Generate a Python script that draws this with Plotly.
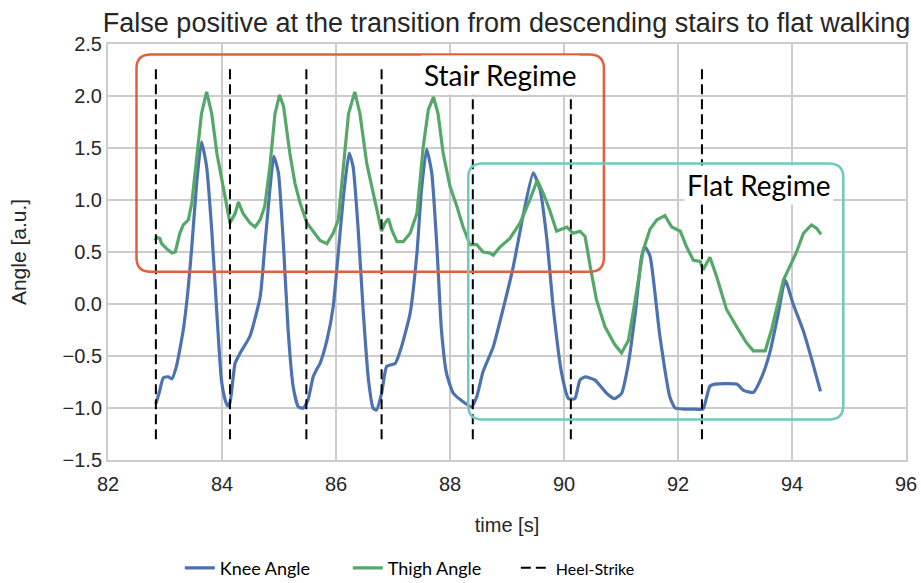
import plotly.graph_objects as go

# ---------------- data ----------------
knee_t = [82.84, 82.90, 82.97, 83.06, 83.12, 83.20, 83.32, 83.41, 83.47, 83.56, 83.64, 83.73, 83.82, 83.91,
          83.99, 84.06, 84.10, 84.14, 84.23, 84.32, 84.49, 84.67, 84.75, 84.84, 84.91, 84.99, 85.08, 85.16,
          85.25, 85.34, 85.43, 85.51, 85.60, 85.66, 85.72, 85.84, 85.95, 86.04, 86.13, 86.23, 86.30, 86.39,
          86.48, 86.57, 86.65, 86.71, 86.80, 86.89, 87.04, 87.15, 87.30, 87.42, 87.50, 87.59, 87.68, 87.77,
          87.85, 87.94, 88.06, 88.23, 88.38, 88.47, 88.58, 88.76, 88.94, 89.11, 89.29, 89.46, 89.58, 89.70,
          89.81, 89.96, 90.08, 90.19, 90.28, 90.37, 90.54, 90.75, 90.89, 91.01, 91.13, 91.25, 91.36, 91.42,
          91.51, 91.68, 91.86, 91.95, 92.10, 92.27, 92.44, 92.50, 92.56, 92.65, 93.03, 93.15, 93.32, 93.47,
          93.61, 93.76, 93.88, 94.02, 94.20, 94.37, 94.50]
knee = [-0.96, -0.85, -0.71, -0.70, -0.72, -0.60, -0.25, 0.17, 0.55, 1.19, 1.56, 1.32, 0.71, -0.09,
        -0.73, -0.93, -0.98, -0.95, -0.57, -0.47, -0.31, 0.07, 0.55, 1.10, 1.42, 1.26, 0.55, -0.25,
        -0.80, -0.99, -1.00, -0.92, -0.70, -0.63, -0.57, -0.35, -0.03, 0.49, 1.03, 1.45, 1.32, 0.71,
        -0.09, -0.73, -1.00, -1.02, -0.86, -0.60, -0.57, -0.41, -0.09, 0.49, 1.10, 1.49, 1.26, 0.55,
        -0.25, -0.67, -0.86, -0.94, -0.99, -0.89, -0.65, -0.41, -0.03, 0.36, 0.87, 1.26, 1.10, 0.62,
        -0.03, -0.67, -0.91, -0.91, -0.73, -0.70, -0.73, -0.86, -0.91, -0.86, -0.57, -0.09, 0.45, 0.55,
        0.46, -0.30, -0.90, -1.00, -1.01, -1.01, -1.01, -0.90, -0.79, -0.77, -0.77, -0.83, -0.85, -0.70,
        -0.47, -0.09, 0.23, 0.00, -0.26, -0.58, -0.84]

thigh_t = [82.82, 82.86, 82.91, 82.94, 83.03, 83.12, 83.18, 83.26, 83.32, 83.41, 83.47, 83.56, 83.64, 83.73,
           83.82, 83.91, 84.02, 84.14, 84.23, 84.29, 84.37, 84.49, 84.58, 84.67, 84.75, 84.84, 84.93, 85.01,
           85.08, 85.19, 85.28, 85.37, 85.49, 85.57, 85.66, 85.72, 85.84, 85.95, 86.04, 86.13, 86.22, 86.33,
           86.42, 86.54, 86.63, 86.71, 86.80, 86.86, 86.92, 86.98, 87.07, 87.18, 87.30, 87.42, 87.53, 87.62,
           87.71, 87.79, 87.88, 88.00, 88.12, 88.23, 88.35, 88.47, 88.58, 88.70, 88.76, 88.88, 89.05, 89.23,
           89.40, 89.53, 89.64, 89.75, 89.87, 90.05, 90.16, 90.28, 90.37, 90.46, 90.57, 90.72, 90.89, 91.01,
           91.13, 91.25, 91.39, 91.51, 91.63, 91.77, 91.89, 92.04, 92.15, 92.27, 92.39, 92.44, 92.56, 92.68,
           92.85, 93.03, 93.20, 93.32, 93.53, 93.64, 93.76, 93.85, 93.96, 94.08, 94.20, 94.34, 94.43, 94.51]
thigh = [0.61, 0.64, 0.63, 0.58, 0.53, 0.49, 0.50, 0.68, 0.76, 0.81, 0.97, 1.42, 1.83, 2.04,
         1.83, 1.45, 1.13, 0.78, 0.87, 0.98, 0.87, 0.78, 0.74, 0.81, 0.94, 1.32, 1.83, 2.01,
         1.90, 1.45, 1.16, 0.97, 0.78, 0.72, 0.65, 0.61, 0.58, 0.68, 0.81, 1.35, 1.83, 2.04,
         1.83, 1.35, 1.13, 0.90, 0.70, 0.78, 0.82, 0.71, 0.60, 0.60, 0.68, 0.87, 1.51, 1.87,
         1.99, 1.83, 1.45, 1.13, 0.94, 0.74, 0.57, 0.57, 0.50, 0.49, 0.47, 0.55, 0.63, 0.78,
         1.00, 1.19, 1.06, 0.90, 0.70, 0.74, 0.68, 0.70, 0.65, 0.36, 0.04, -0.22, -0.39, -0.47,
         -0.35, 0.04, 0.52, 0.72, 0.81, 0.85, 0.74, 0.70, 0.55, 0.42, 0.41, 0.33, 0.45, 0.26,
         -0.05, -0.22, -0.37, -0.45, -0.45, -0.25, 0.04, 0.23, 0.36, 0.50, 0.68, 0.76, 0.73, 0.67]

heel_strikes = [82.84, 84.14, 85.48, 86.80, 88.40, 90.12, 92.42]
heel_y_range = [-1.3, 2.28]

series_names = ["Knee Angle", "Thigh Angle", "Heel-Strike"]
title_text = "False positive at the transition from descending stairs to flat walking"
x_label = "time [s]"
y_label = "Angle [a.u.]"
x_ticks = [82, 84, 86, 88, 90, 92, 94, 96]
y_ticks = [-1.5, -1.0, -0.5, 0.0, 0.5, 1.0, 1.5, 2.0, 2.5]

# regime boxes (data coords): x0, y0, x1, y1
stair_box = (82.50, 0.31, 90.70, 2.40)
flat_box = (88.32, -1.11, 94.90, 1.35)
stair_label = ("Stair Regime", 88.88, 2.20)
flat_label = ("Flat Regime", 93.42, 1.14)

# ---------------- styles ----------------
BLUE = "#4C72B0"
GREEN = "#55A868"
RED = "#E0603F"
TEAL = "#72C8BE"
GRID = "#CCCCCC"
TEXT = "#262626"
SANS = "Arial"


def rounded_rect(x0, y0, x1, y1, rx=0.25, ry=0.135):
    return (f"M {x0 + rx},{y0} L {x1 - rx},{y0} Q {x1},{y0} {x1},{y0 + ry} "
            f"L {x1},{y1 - ry} Q {x1},{y1} {x1 - rx},{y1} L {x0 + rx},{y1} "
            f"Q {x0},{y1} {x0},{y1 - ry} L {x0},{y0 + ry} Q {x0},{y0} {x0 + rx},{y0} Z")


fig = go.Figure()

fig.add_trace(go.Scatter(x=knee_t, y=knee, mode="lines", name=series_names[0],
                         line=dict(color=BLUE, width=3.2, shape="spline", smoothing=0.5)))
fig.add_trace(go.Scatter(x=thigh_t, y=thigh, mode="lines", name=series_names[1],
                         line=dict(color=GREEN, width=3.2, shape="linear")))

hx, hy = [], []
for t in heel_strikes:
    hx += [t, t, None]
    hy += [heel_y_range[0], heel_y_range[1], None]
fig.add_trace(go.Scatter(x=hx, y=hy, mode="lines",
                         name="<span style='font-size:16px'>" + series_names[2] + "</span>",
                         line=dict(color="black", width=2, dash="10px,5px")))

fig.add_shape(type="path", path=rounded_rect(*stair_box), xref="x", yref="y",
              line=dict(color=RED, width=2.5), layer="above")
fig.add_shape(type="path", path=rounded_rect(*flat_box), xref="x", yref="y",
              line=dict(color=TEAL, width=2.5), layer="above")

for txt, ax_, ay_ in (stair_label, flat_label):
    fig.add_annotation(x=ax_, y=ay_, xref="x", yref="y", text=txt, showarrow=False,
                       font=dict(family="Lato", size=28, color="black"),
                       bgcolor="white", borderpad=2)

fig.update_layout(
    width=921, height=583,
    margin=dict(l=108, r=15, t=44, b=123, autoexpand=False),
    paper_bgcolor="white", plot_bgcolor="white",
    title=dict(text=title_text, x=0.55, xanchor="center", y=0.962, yanchor="middle",
               font=dict(family=SANS, size=27, color=TEXT)),
    font=dict(family=SANS, color=TEXT),
    showlegend=True,
    legend=dict(orientation="h", x=0.09, xanchor="left", y=-0.26, yanchor="middle",
                font=dict(family="Lato", size=18, color="black"),
                entrywidth=123, entrywidthmode="pixels", bgcolor="rgba(0,0,0,0)"),
)
fig.update_xaxes(range=[82, 96], tickvals=x_ticks, ticktext=[str(v) for v in x_ticks],
                 showgrid=True, gridcolor=GRID, gridwidth=1.5,
                 showline=True, linecolor=GRID, linewidth=2, mirror=True,
                 zeroline=False, ticks="", tickfont=dict(size=20), automargin=False,
                 ticklabelstandoff=5,
                 title=dict(text=x_label, font=dict(size=20), standoff=24))
fig.update_yaxes(range=[-1.5, 2.5], tickvals=y_ticks, tickformat=".1f",
                 showgrid=True, gridcolor=GRID, gridwidth=1.5,
                 showline=True, linecolor=GRID, linewidth=2, mirror=True,
                 zeroline=False, ticks="", tickfont=dict(size=20), automargin=False,
                 title=dict(text=y_label, font=dict(size=21), standoff=30))

fig.write_html("out.html", config={"displayModeBar": False},
               post_script="document.body.style.margin='0';document.body.style.overflow='hidden';")
